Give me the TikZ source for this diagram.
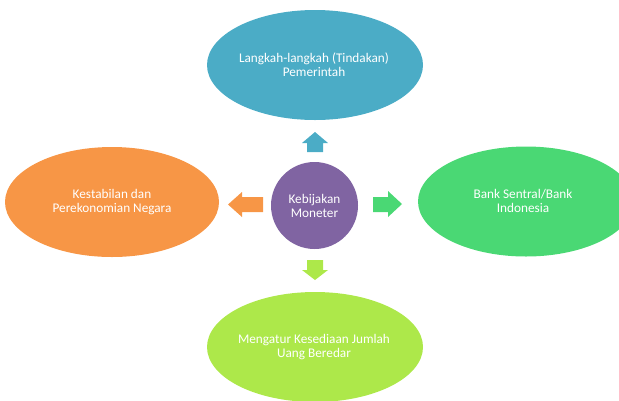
\documentclass[tikz,border=0pt]{standalone}
\usepackage{fontspec}
\setmainfont{Carlito}
\begin{document}
\begin{tikzpicture}[x=1bp,y=-1bp,
  bub/.style={draw=none, text=white, align=center, font=\fontsize{13.3}{14}\selectfont, inner sep=0pt},
]
\definecolor{cBlue}{HTML}{4BACC6}
\definecolor{cOrange}{HTML}{F79646}
\definecolor{cGreen}{HTML}{4AD874}
\definecolor{cLime}{HTML}{ADE84A}
\definecolor{cPurple}{HTML}{8064A2}
\useasboundingbox (0,0) rectangle (619,400);
\clip (0,0) rectangle (619,400);
% ellipses
\fill[cBlue] (315,65) ellipse [x radius=108, y radius=55];
\node[bub] (top) at (314,65) {Langkah-langkah (Tindakan)\\Pemerintah};
\fill[cOrange] (112,202) ellipse [x radius=107, y radius=55];
\node[bub] (left) at (112,202) {Kestabilan dan\\Perekonomian Negara};
\fill[cGreen] (526,201.5) ellipse [x radius=108, y radius=55];
\node[bub] (right) at (523,201) {Bank Sentral/Bank\\Indonesia};
\fill[cLime] (315,347) ellipse [x radius=108, y radius=55];
\node[bub] (bottom) at (314,347) {Mengatur Kesediaan Jumlah\\Uang Beredar};
\fill[cPurple] (314.5,205.5) circle [radius=43.5];
\node[bub] (center) at (314.5,206) {Kebijakan\\Moneter};
% block arrows
\fill[cBlue] (307,152) -- (307,143) -- (302,143) -- (315,132) -- (328,143) -- (323,143) -- (323,152) -- cycle;
\fill[cLime] (307,260) -- (307,270) -- (302,270) -- (315,280) -- (328,270) -- (323,270) -- (323,260) -- cycle;
\fill[cOrange] (263,197) -- (242,197) -- (242,192) -- (228,204.5) -- (242,217) -- (242,212) -- (263,212) -- cycle;
\fill[cGreen] (373,197) -- (388,197) -- (388,191) -- (402,204) -- (388,217) -- (388,212) -- (373,212) -- cycle;
\end{tikzpicture}
\end{document}
